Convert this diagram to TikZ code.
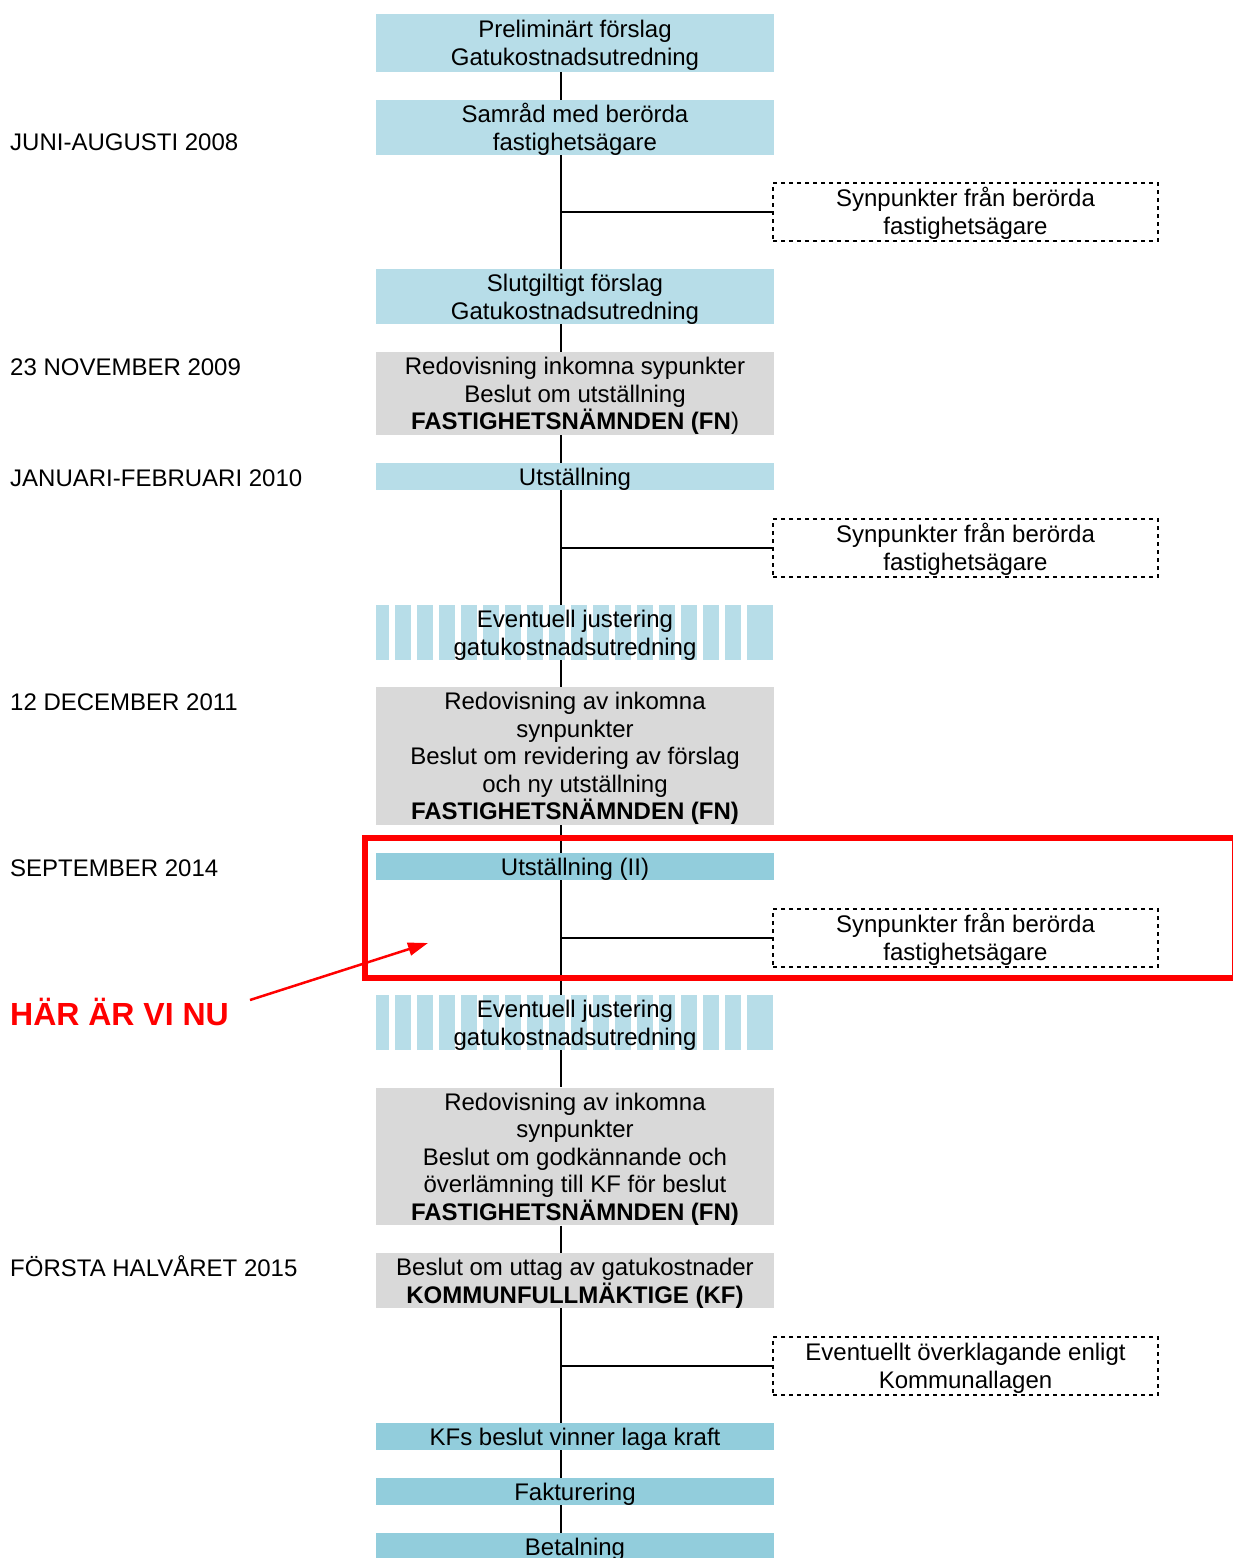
\documentclass[tikz,border=0pt]{standalone}
\usepackage{fontspec}
\setmainfont{Liberation Sans}
\usetikzlibrary{arrows.meta}
\definecolor{lblue}{HTML}{B7DDE8}
\definecolor{dblue}{HTML}{92CDDC}
\definecolor{lgray}{HTML}{D9D9D9}
\definecolor{hotred}{HTML}{FF0000}
\newcommand{\tstr}{\rule{0pt}{22.5pt}}
\tikzset{
  stage/.style={inner sep=0pt, minimum width=398pt, align=center,
    font=\fontsize{24}{27.6}\selectfont},
  lightstage/.style={stage, fill=lblue},
  darkstage/.style={stage, fill=dblue},
  graystage/.style={stage, fill=lgray},
  stripestage/.style={stage},
  commentbox/.style={inner sep=0pt, minimum width=385pt, minimum height=58pt,
    align=center, draw=black, line width=2pt, dash pattern=on 4pt off 4pt,
    font=\fontsize{24}{27.6}\selectfont},
  datelbl/.style={inner sep=0pt, anchor=base west, font=\fontsize{24}{27.6}\selectfont},
  spine/.style={draw=black, line width=2pt},
}
\begin{document}
\begin{tikzpicture}[x=1pt,y=-1pt]
\useasboundingbox (0,0) rectangle (1232,1558);
\fill[white] (0,0) rectangle (1232,1558);
\coordinate (sp) at (561,0);

% stripes for the two "Eventuell justering" boxes
\foreach \ya/\yb in {605/660, 995/1050}{
  \fill[lblue] (376,\ya) rectangle (389,\yb);
  \foreach \k in {1,...,16}{
    \fill[lblue] ({373+22*\k},\ya) rectangle ({389+22*\k},\yb);
  }
  \fill[lblue] (747,\ya) rectangle (773,\yb);
}

% main column
\node[lightstage, minimum height=58pt] (b1) at (575,43) {\tstr Preliminärt förslag\\Gatukostnadsutredning};
\node[lightstage, minimum height=55pt] (b2) at (575,127.5) {\tstr Samråd med berörda\\fastighetsägare};
\node[lightstage, minimum height=55pt] (b3) at (575,296.5) {\tstr Slutgiltigt förslag\\Gatukostnadsutredning};
\node[graystage, minimum height=83pt] (b4) at (575,393.5) {\tstr Redovisning inkomna sypunkter\\Beslut om utställning\\\textbf{FASTIGHETSNÄMNDEN (FN})};
\node[lightstage, minimum height=27pt] (b5) at (575,476.5) {\tstr Utställning};
\node[stripestage, minimum height=55pt] (b6) at (575,632.5) {\tstr Eventuell justering\\gatukostnadsutredning};
\node[graystage, minimum height=138pt] (b7) at (575,756) {\tstr Redovisning av inkomna\\synpunkter\\Beslut om revidering av förslag\\och ny utställning\\\textbf{FASTIGHETSNÄMNDEN (FN)}};
\node[darkstage, minimum height=27pt] (b8) at (575,866.5) {\tstr Utställning (II)};
\node[stripestage, minimum height=55pt] (b9) at (575,1022.5) {\tstr Eventuell justering\\gatukostnadsutredning};
\node[graystage, minimum height=137pt] (b10) at (575,1156.5) {\tstr Redovisning av inkomna\\synpunkter\\Beslut om godkännande och\\överlämning till KF för beslut\\\textbf{FASTIGHETSNÄMNDEN (FN)}};
\node[graystage, minimum height=55pt] (b11) at (575,1280.5) {\tstr Beslut om uttag av gatukostnader\\\textbf{KOMMUNFULLMÄKTIGE (KF)}};
\node[darkstage, minimum height=27pt] (b12) at (575,1436.5) {\tstr KFs beslut vinner laga kraft};
\node[darkstage, minimum height=27pt] (b13) at (575,1491.5) {\tstr Fakturering};
\node[darkstage, minimum height=27pt] (b14) at (575,1546.5) {\tstr Betalning};

% spine connectors
\foreach \a/\b in {b1/b2, b2/b3, b3/b4, b4/b5, b5/b6, b6/b7, b7/b8, b8/b9, b9/b10, b10/b11, b11/b12, b12/b13, b13/b14}{
  \draw[spine] (\a.south -| sp) -- (\b.north -| sp);
}

% comment boxes
\node[commentbox] (d1) at (965.5,212) {\tstr Synpunkter från berörda\\fastighetsägare};
\node[commentbox] (d2) at (965.5,548) {\tstr Synpunkter från berörda\\fastighetsägare};
\node[commentbox] (d3) at (965.5,938) {\tstr Synpunkter från berörda\\fastighetsägare};
\node[commentbox] (d4) at (965.5,1366) {\tstr Eventuellt överklagande enligt\\Kommunallagen};
\foreach \d in {d1,d2,d3,d4}{
  \draw[spine] (\d.west -| sp) -- (\d.west);
}

% date labels
\node[datelbl] (l1) at (10,150.6) {JUNI-AUGUSTI 2008};
\node[datelbl] (l2) at (10,375.6) {23 NOVEMBER 2009};
\node[datelbl] (l3) at (10,486.6) {JANUARI-FEBRUARI 2010};
\node[datelbl] (l4) at (10,710.6) {12 DECEMBER 2011};
\node[datelbl] (l5) at (10,876.3) {SEPTEMBER 2014};
\node[datelbl] (l6) at (10,1276.6) {FÖRSTA HALVÅRET 2015};

% highlight
\draw[hotred, line width=6pt] (365,838) rectangle (1235,978);
\node[inner sep=0pt, anchor=base west, text=hotred, font=\fontsize{32}{36}\selectfont\bfseries] (here) at (10,1025) {HÄR ÄR VI NU};
\coordinate (arrstart) at (250,1000);
\coordinate (arrtip) at (428,943);
\draw[hotred, line width=2.5pt, -{Triangle[length=20pt,width=13pt]}] (arrstart) -- (arrtip);
\end{tikzpicture}
\end{document}
